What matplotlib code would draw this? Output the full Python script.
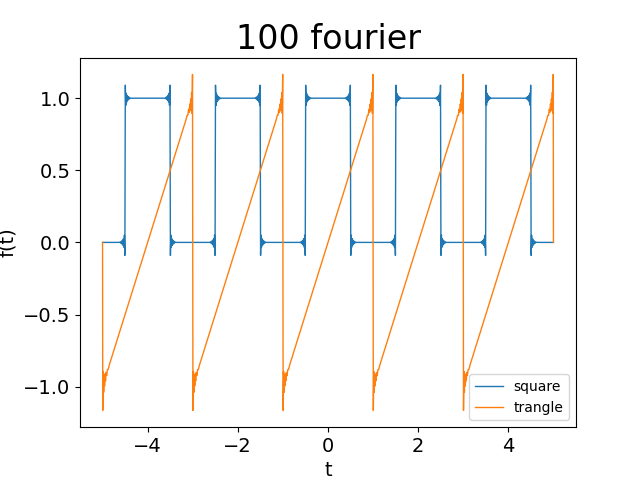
import matplotlib

matplotlib.use("Agg")

import matplotlib.pyplot as plt
import numpy as np

# values
t_start, t_end = -5.0, 5.0

# square wave: rising / falling edges and its two levels
square_rise = [-4.5, -2.5, -0.5, 1.5, 3.5]
square_fall = [-3.5, -1.5, 0.5, 2.5, 4.5]
square_low, square_high = 0.0, 1.0
# ringing next to each square edge (distance from edge, overshoot beyond level)
square_ring_dist = [0.005, 0.015, 0.025, 0.035, 0.045, 0.055, 0.066, 0.078, 0.092, 0.108, 0.125]
square_ring_dev = [0.09, -0.05, 0.034, -0.026, 0.02, -0.016, 0.012, -0.009, 0.006, -0.003, 0.0]

# sawtooth ("trangle"): jumps from +1 down to -1
saw_jumps = [-5.0, -3.0, -1.0, 1.0, 3.0, 5.0]
saw_low, saw_high = -1.0, 1.0
saw_mid = 0.0
# ringing next to each jump
saw_ring_dist = [0.005, 0.015, 0.025, 0.035, 0.045, 0.055, 0.066, 0.078, 0.092, 0.108, 0.125, 0.15]
saw_ring_dev = [0.17, -0.09, 0.065, -0.05, 0.04, -0.032, 0.026, -0.02, 0.015, -0.01, 0.006, 0.0]


def build_square():
    edges = sorted([(e, "up") for e in square_rise] + [(e, "down") for e in square_fall])
    ts = [t_start]
    ys = [square_low]
    for edge, kind in edges:
        before, after = (square_low, square_high) if kind == "up" else (square_high, square_low)
        sign_before = -1 if kind == "up" else 1
        for d, dev in zip(reversed(square_ring_dist), reversed(square_ring_dev)):
            ts.append(edge - d)
            ys.append(before + sign_before * dev)
        for d, dev in zip(square_ring_dist, square_ring_dev):
            ts.append(edge + d)
            ys.append(after - sign_before * dev)
    ts.append(t_end)
    ys.append(square_low)
    return np.array(ts), np.array(ys)


def build_saw():
    ts = []
    ys = []
    span = saw_high - saw_low
    for i, jump in enumerate(saw_jumps):
        if i > 0:
            # top end of the ramp, just before the jump
            for d, dev in zip(reversed(saw_ring_dist), reversed(saw_ring_dev)):
                ts.append(jump - d)
                ys.append(saw_high - d * span / 2 + dev)
        ts.append(jump)
        ys.append(saw_mid)
        if i < len(saw_jumps) - 1:
            for d, dev in zip(saw_ring_dist, saw_ring_dev):
                ts.append(jump + d)
                ys.append(saw_low + d * span / 2 - dev)
    return np.array(ts), np.array(ys)


sq_t, sq_y = build_square()
saw_t, saw_y = build_saw()

fig, ax = plt.subplots(figsize=(6.4, 4.8), dpi=100)
ax.plot(sq_t, sq_y, linewidth=1, label="square")
ax.plot(saw_t, saw_y, linewidth=1, label="trangle")
ax.set_title("100 fourier", fontsize=24)
ax.set_xlabel("t", fontsize=14)
ax.set_ylabel("f(t)", fontsize=14)
ax.tick_params(labelsize=14)
ax.legend(loc="lower right")
fig.savefig("out.png", dpi=100)
